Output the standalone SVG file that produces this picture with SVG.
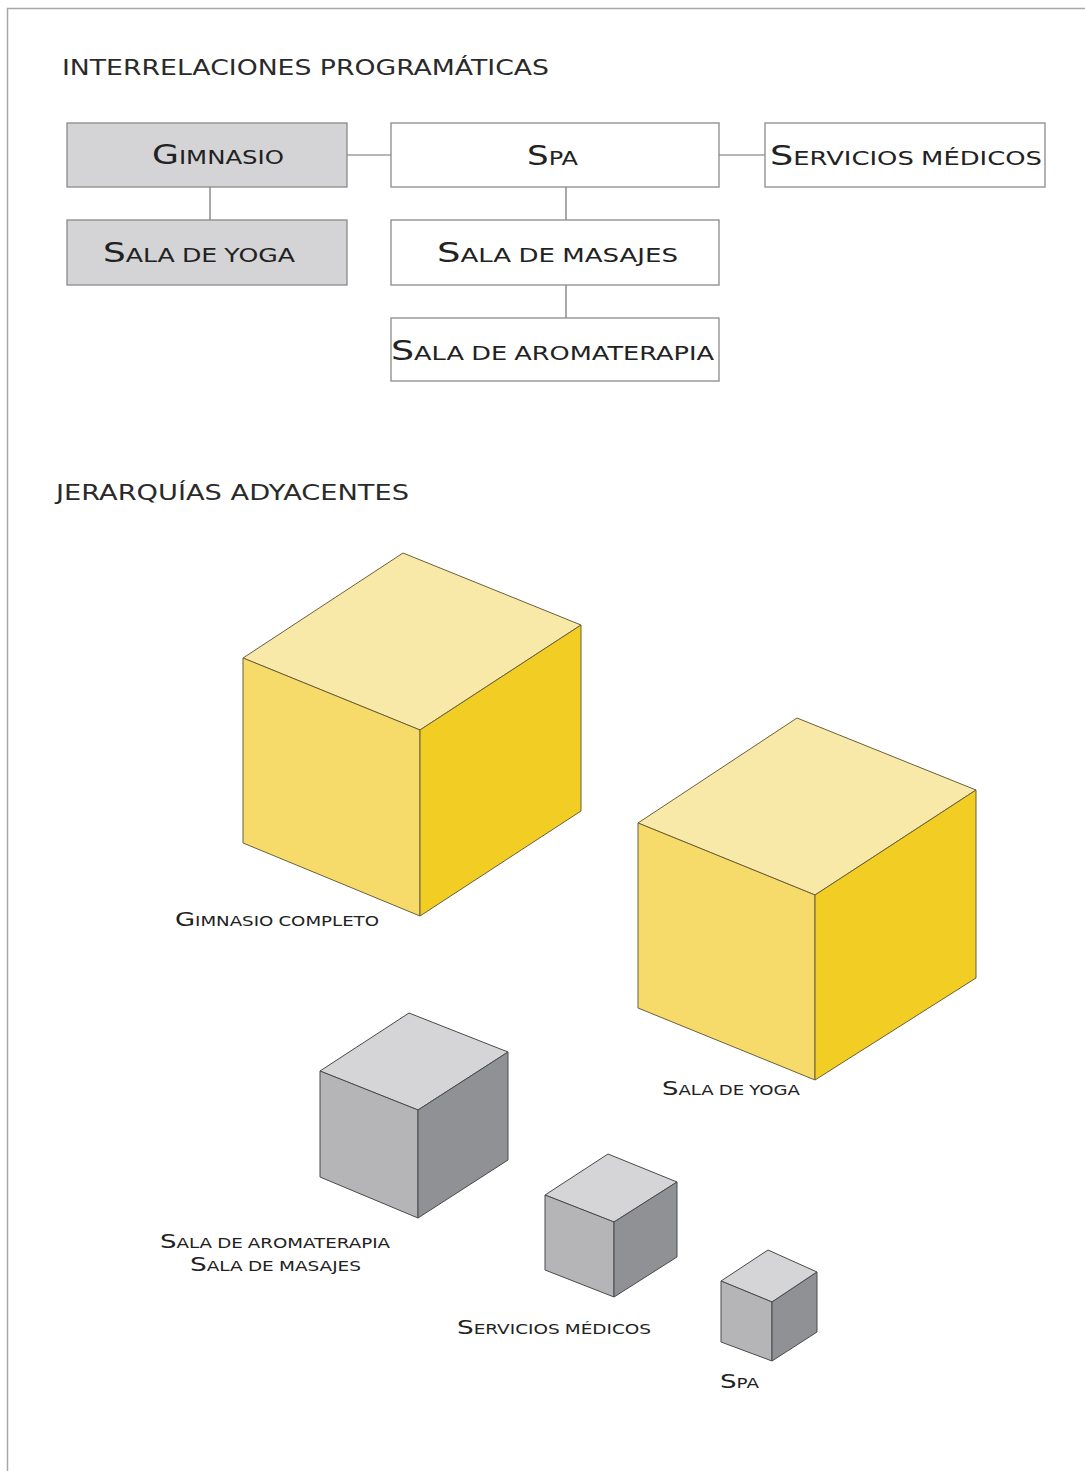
<svg xmlns="http://www.w3.org/2000/svg" width="1085" height="1471" viewBox="0 0 1085 1471">
<style>
.t{font-family:"DejaVu Sans","Liberation Sans",sans-serif;fill:#222;font-variant:small-caps;word-spacing:-0.12em;}
.h{font-family:"DejaVu Sans","Liberation Sans",sans-serif;fill:#2a2a2a;font-size:22px;}
.bx{stroke:#8a8a8a;stroke-width:1.3;}
.g{fill:#d4d4d6;}
.w{fill:#fff;}
.c{stroke:#707070;stroke-width:1.2;fill:none;}
.yt{fill:#f9e9a9;}.yl{fill:#f6db6b;}.yr{fill:#f2cd24;}
.gt{fill:#d5d5d7;}.gl{fill:#b5b5b7;}.gr{fill:#909194;}
.ys{stroke:#6b5f3a;stroke-width:1;stroke-linejoin:round;}
.gs{stroke:#4a4a4a;stroke-width:1;stroke-linejoin:round;}
</style>
<rect width="1085" height="1471" fill="#fff"/>
<path d="M7.5,1471 V8.5 H1085" fill="none" stroke="#a8a8a8" stroke-width="1.5"/>

<text class="h" x="62" y="75" textLength="487" lengthAdjust="spacingAndGlyphs">INTERRELACIONES PROGRAMÁTICAS</text>
<text class="h" x="56" y="500" textLength="353" lengthAdjust="spacingAndGlyphs">JERARQUÍAS ADYACENTES</text>

<g id="connectors">
<line class="c" x1="347" y1="155" x2="391" y2="155"/>
<line class="c" x1="719" y1="155" x2="765" y2="155"/>
<line class="c" x1="210" y1="187" x2="210" y2="220"/>
<line class="c" x1="566" y1="187" x2="566" y2="220"/>
<line class="c" x1="566" y1="285" x2="566" y2="318"/>
</g>

<g id="n-gimnasio">
<rect class="bx g" x="67" y="123" width="280" height="64"/>
<text class="t" x="152" y="164" font-size="27" textLength="132" lengthAdjust="spacingAndGlyphs">Gimnasio</text>
</g>
<g id="n-spa">
<rect class="bx w" x="391" y="123" width="328" height="64"/>
<text class="t" x="527" y="165" font-size="27" textLength="51" lengthAdjust="spacingAndGlyphs">Spa</text>
</g>
<g id="n-servicios">
<rect class="bx w" x="765" y="123" width="280" height="64"/>
<text class="t" x="770" y="165" font-size="27" textLength="272" lengthAdjust="spacingAndGlyphs">Servicios médicos</text>
</g>
<g id="n-yoga">
<rect class="bx g" x="67" y="220" width="280" height="65"/>
<text class="t" x="103" y="262" font-size="27" textLength="192" lengthAdjust="spacingAndGlyphs">Sala de yoga</text>
</g>
<g id="n-masajes">
<rect class="bx w" x="391" y="220" width="328" height="65"/>
<text class="t" x="437" y="262" font-size="27" textLength="241" lengthAdjust="spacingAndGlyphs">Sala de masajes</text>
</g>
<g id="n-aromaterapia">
<rect class="bx w" x="391" y="318" width="328" height="63"/>
<text class="t" x="391" y="360" font-size="27" textLength="323" lengthAdjust="spacingAndGlyphs">Sala de aromaterapia</text>
</g>

<g id="cube-gimnasio">
<polygon class="yt ys" points="243,658 403,553 581,625 420,730"/>
<polygon class="yl ys" points="243,658 420,730 420,916 243,843"/>
<polygon class="yr ys" points="420,730 581,625 581,811 420,916"/>
<text class="t" x="175" y="926" font-size="20" textLength="204" lengthAdjust="spacingAndGlyphs">Gimnasio completo</text>
</g>
<g id="cube-yoga">
<polygon class="yt ys" points="638,823 797,718 976,790 815,895"/>
<polygon class="yl ys" points="638,823 815,895 815,1080 638,1008"/>
<polygon class="yr ys" points="815,895 976,790 976,978 815,1080"/>
<text class="t" x="662" y="1095" font-size="20" textLength="138" lengthAdjust="spacingAndGlyphs">Sala de yoga</text>
</g>
<g id="cube-aromaterapia">
<polygon class="gt gs" points="320,1071 409,1013 508,1052 418,1110"/>
<polygon class="gl gs" points="320,1071 418,1110 418,1218 320,1177"/>
<polygon class="gr gs" points="418,1110 508,1052 508,1160 418,1218"/>
<text class="t" x="160" y="1248" font-size="20" textLength="230" lengthAdjust="spacingAndGlyphs">Sala de aromaterapia</text>
<text class="t" x="190" y="1271" font-size="20" textLength="171" lengthAdjust="spacingAndGlyphs">Sala de masajes</text>
</g>
<g id="cube-servicios">
<polygon class="gt gs" points="545,1195 608,1154 677,1182 614,1222"/>
<polygon class="gl gs" points="545,1195 614,1222 614,1297 545,1270"/>
<polygon class="gr gs" points="614,1222 677,1182 677,1257 614,1297"/>
<text class="t" x="457" y="1334" font-size="20" textLength="194" lengthAdjust="spacingAndGlyphs">Servicios médicos</text>
</g>
<g id="cube-spa">
<polygon class="gt gs" points="721,1281 768,1250 817,1272 772,1302"/>
<polygon class="gl gs" points="721,1281 772,1302 772,1361 721,1342"/>
<polygon class="gr gs" points="772,1302 817,1272 817,1332 772,1361"/>
<text class="t" x="720" y="1388" font-size="20" textLength="39" lengthAdjust="spacingAndGlyphs">Spa</text>
</g>
</svg>
